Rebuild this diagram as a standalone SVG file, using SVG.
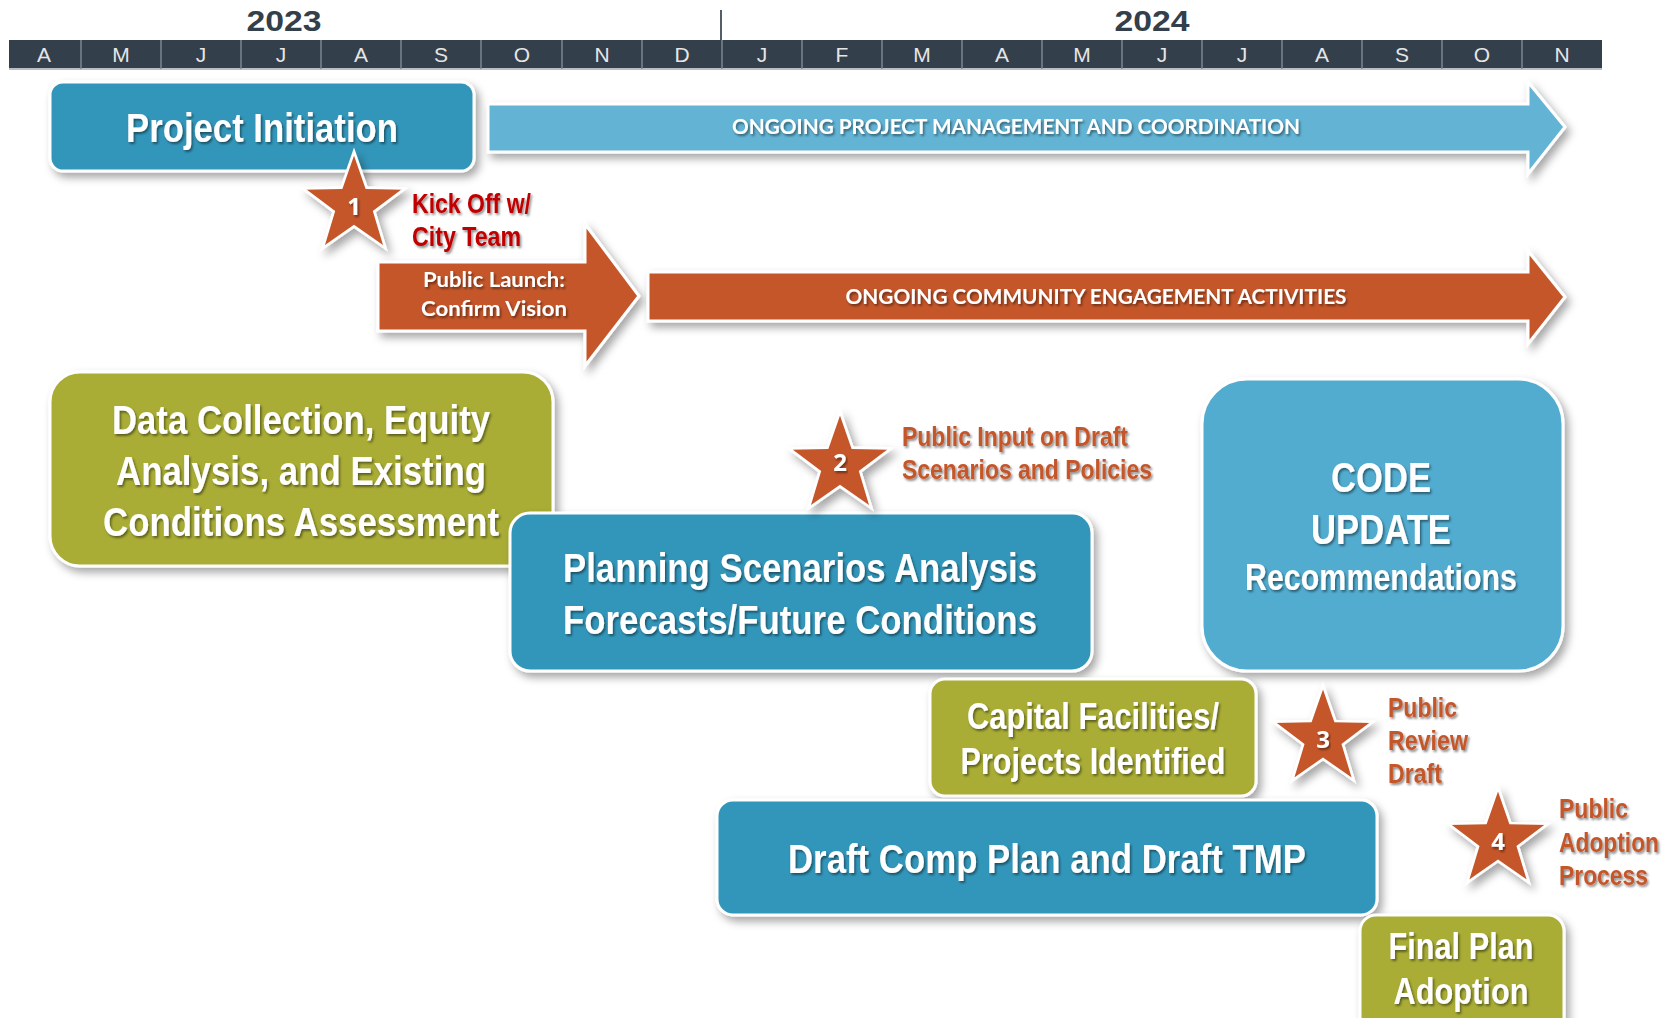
<svg xmlns="http://www.w3.org/2000/svg" width="1675" height="1018" viewBox="0 0 1675 1018">
<defs>
<filter id="sh" x="-10%" y="-10%" width="130%" height="140%">
<feDropShadow dx="4" dy="5" stdDeviation="4" flood-color="#000" flood-opacity="0.35"/>
</filter>
<filter id="tsh" x="-3%" y="-20%" width="106%" height="150%">
<feDropShadow dx="1.5" dy="2" stdDeviation="1" flood-color="#000" flood-opacity="0.45"/>
</filter>
<path id="star" d="M0,-50 L11.76,-16.18 L47.55,-15.45 L19.02,6.18 L29.39,40.45 L0,20 L-29.39,40.45 L-19.02,6.18 L-47.55,-15.45 L-11.76,-16.18 Z"/>
<style>
.box{stroke:#fff;stroke-width:3;filter:url(#sh)}
.teal{fill:#3396ba}
.lblue{fill:#51acd0}
.olive{fill:#a9ad35}
.orange{fill:#c4572a}
.arrowb{fill:#62b3d4}
.star{fill:#c4572a;stroke:#fff;stroke-width:2.5;filter:url(#sh)}
.nar{font-family:"Liberation Sans",Arial,sans-serif;font-weight:bold;fill:#fff;text-anchor:middle;filter:url(#tsh)}
.cal{font-family:Lato,"Open Sans",sans-serif;font-weight:bold;fill:#fff;text-anchor:middle;filter:url(#tsh)}
.num{font-family:"Open Sans",Lato,sans-serif;font-weight:bold;fill:#fff;text-anchor:middle;font-size:24px;filter:url(#tsh)}
.red{font-family:"Liberation Sans",Arial,sans-serif;font-weight:bold;fill:#c00000;font-size:27px;filter:url(#tsh)}
.otx{font-family:"Liberation Sans",Arial,sans-serif;font-weight:bold;fill:#c4572a;font-size:27px;filter:url(#tsh)}
.mon{font-family:"Liberation Sans",Arial,sans-serif;font-size:21px;fill:#e6e6e6;text-anchor:middle}
.yr{font-family:"Liberation Sans",Arial,sans-serif;font-weight:bold;font-size:30px;fill:#333f4b;text-anchor:middle}
.div{stroke:#7d8791;stroke-width:1.5}
</style>
</defs>
<rect width="1675" height="1018" fill="#fff"/>

<g id="timeline">
<text class="yr" x="284" y="31" textLength="75" lengthAdjust="spacingAndGlyphs">2023</text>
<text class="yr" x="1152" y="31" textLength="75" lengthAdjust="spacingAndGlyphs">2024</text>
<line x1="721" y1="10" x2="721" y2="40" stroke="#555e66" stroke-width="2"/>
<rect x="9" y="40" width="1593" height="29" fill="#333f4b"/>
<rect x="9" y="68" width="1593" height="2" fill="#b8bec4"/>
<g class="div">
<line x1="81" y1="40" x2="81" y2="69"/><line x1="161" y1="40" x2="161" y2="69"/><line x1="241" y1="40" x2="241" y2="69"/><line x1="321" y1="40" x2="321" y2="69"/><line x1="401" y1="40" x2="401" y2="69"/><line x1="481" y1="40" x2="481" y2="69"/><line x1="562" y1="40" x2="562" y2="69"/><line x1="642" y1="40" x2="642" y2="69"/><line x1="722" y1="40" x2="722" y2="69"/><line x1="802" y1="40" x2="802" y2="69"/><line x1="882" y1="40" x2="882" y2="69"/><line x1="962" y1="40" x2="962" y2="69"/><line x1="1042" y1="40" x2="1042" y2="69"/><line x1="1122" y1="40" x2="1122" y2="69"/><line x1="1202" y1="40" x2="1202" y2="69"/><line x1="1282" y1="40" x2="1282" y2="69"/><line x1="1362" y1="40" x2="1362" y2="69"/><line x1="1442" y1="40" x2="1442" y2="69"/><line x1="1522" y1="40" x2="1522" y2="69"/>
</g>
<text class="mon" x="44" y="62">A</text><text class="mon" x="121" y="62">M</text><text class="mon" x="201" y="62">J</text><text class="mon" x="281" y="62">J</text><text class="mon" x="361" y="62">A</text><text class="mon" x="441" y="62">S</text><text class="mon" x="522" y="62">O</text><text class="mon" x="602" y="62">N</text><text class="mon" x="682" y="62">D</text><text class="mon" x="762" y="62">J</text><text class="mon" x="842" y="62">F</text><text class="mon" x="922" y="62">M</text><text class="mon" x="1002" y="62">A</text><text class="mon" x="1082" y="62">M</text><text class="mon" x="1162" y="62">J</text><text class="mon" x="1242" y="62">J</text><text class="mon" x="1322" y="62">A</text><text class="mon" x="1402" y="62">S</text><text class="mon" x="1482" y="62">O</text><text class="mon" x="1562" y="62">N</text>
</g>

<g id="connectors">
<g id="arrow-pm">
<path class="box arrowb" d="M488,104 H1528 V82 L1565,127 L1528,174 V152 H488 Z"/>
<text class="cal" x="1016" y="134" font-size="20" textLength="568" lengthAdjust="spacingAndGlyphs">ONGOING PROJECT MANAGEMENT AND COORDINATION</text>
</g>
<g id="arrow-launch">
<path class="box orange" d="M378,262 H585 V224 L639,296 L585,366 V331 H378 Z"/>
<text class="cal" x="494" y="287" font-size="20" textLength="142" lengthAdjust="spacingAndGlyphs">Public Launch:</text>
<text class="cal" x="494" y="316" font-size="20" textLength="146" lengthAdjust="spacingAndGlyphs">Confirm Vision</text>
</g>
<g id="arrow-ce">
<path class="box orange" d="M648,272 H1528 V251 L1565,297 L1528,344 V321 H648 Z"/>
<text class="cal" x="1096" y="304" font-size="20" textLength="501" lengthAdjust="spacingAndGlyphs">ONGOING COMMUNITY ENGAGEMENT ACTIVITIES</text>
</g>
</g>

<g id="project-initiation">
<rect class="box teal" x="50" y="82" width="424" height="89" rx="13"/>
<text class="nar" x="262" y="142" font-size="40" textLength="272" lengthAdjust="spacingAndGlyphs">Project Initiation</text>
</g>

<g id="star1">
<use href="#star" class="star" transform="translate(354,205) scale(1.07)"/>
<text class="num" x="354" y="215">1</text>
<text class="red" x="412" y="213" textLength="119" lengthAdjust="spacingAndGlyphs">Kick Off w/</text>
<text class="red" x="412" y="246" textLength="109" lengthAdjust="spacingAndGlyphs">City Team</text>
</g>

<g id="data-collection">
<rect class="box olive" x="50" y="372" width="503" height="194" rx="30"/>
<text class="nar" x="301" y="434" font-size="40" textLength="378" lengthAdjust="spacingAndGlyphs">Data Collection, Equity</text>
<text class="nar" x="301" y="485" font-size="40" textLength="370" lengthAdjust="spacingAndGlyphs">Analysis, and Existing</text>
<text class="nar" x="301" y="536" font-size="40" textLength="396" lengthAdjust="spacingAndGlyphs">Conditions Assessment</text>
</g>

<g id="planning-scenarios">
<rect class="box teal" x="510" y="513" width="582" height="158" rx="20"/>
<text class="nar" x="800" y="582" font-size="40" textLength="474" lengthAdjust="spacingAndGlyphs">Planning Scenarios Analysis</text>
<text class="nar" x="800" y="634" font-size="40" textLength="474" lengthAdjust="spacingAndGlyphs">Forecasts/Future Conditions</text>
</g>

<g id="star2">
<use href="#star" class="star" transform="translate(840,465) scale(1.07)"/>
<text class="num" x="840" y="471">2</text>
<text class="otx" x="902" y="446" textLength="226" lengthAdjust="spacingAndGlyphs">Public Input on Draft</text>
<text class="otx" x="902" y="479" textLength="250" lengthAdjust="spacingAndGlyphs">Scenarios and Policies</text>
</g>

<g id="code-update">
<rect class="box lblue" x="1202" y="379" width="361" height="292" rx="45"/>
<text class="nar" x="1381" y="492" font-size="42" textLength="100" lengthAdjust="spacingAndGlyphs">CODE</text>
<text class="nar" x="1381" y="544" font-size="42" textLength="140" lengthAdjust="spacingAndGlyphs">UPDATE</text>
<text class="nar" x="1381" y="590" font-size="36" textLength="272" lengthAdjust="spacingAndGlyphs">Recommendations</text>
</g>

<g id="capital-facilities">
<rect class="box olive" x="930" y="679" width="326" height="117" rx="15"/>
<text class="nar" x="1093" y="729" font-size="36" textLength="252" lengthAdjust="spacingAndGlyphs">Capital Facilities/</text>
<text class="nar" x="1093" y="774" font-size="36" textLength="265" lengthAdjust="spacingAndGlyphs">Projects Identified</text>
</g>

<g id="star3">
<use href="#star" class="star" transform="translate(1323,738) scale(1.05)"/>
<text class="num" x="1323" y="748">3</text>
<text class="otx" x="1388" y="717" textLength="69" lengthAdjust="spacingAndGlyphs">Public</text>
<text class="otx" x="1388" y="750" textLength="80" lengthAdjust="spacingAndGlyphs">Review</text>
<text class="otx" x="1388" y="783" textLength="54" lengthAdjust="spacingAndGlyphs">Draft</text>
</g>

<g id="draft-comp-plan">
<rect class="box teal" x="717" y="800" width="660" height="115" rx="16"/>
<text class="nar" x="1047" y="873" font-size="40" textLength="518" lengthAdjust="spacingAndGlyphs">Draft Comp Plan and Draft TMP</text>
</g>

<g id="star4">
<use href="#star" class="star" transform="translate(1498,840) scale(1.05)"/>
<text class="num" x="1498" y="850">4</text>
<text class="otx" x="1559" y="818" textLength="69" lengthAdjust="spacingAndGlyphs">Public</text>
<text class="otx" x="1559" y="852" textLength="100" lengthAdjust="spacingAndGlyphs">Adoption</text>
<text class="otx" x="1559" y="885" textLength="89" lengthAdjust="spacingAndGlyphs">Process</text>
</g>

<g id="final-plan">
<rect class="box olive" x="1360" y="915" width="204" height="130" rx="16"/>
<text class="nar" x="1461" y="959" font-size="36" textLength="145" lengthAdjust="spacingAndGlyphs">Final Plan</text>
<text class="nar" x="1461" y="1004" font-size="36" textLength="135" lengthAdjust="spacingAndGlyphs">Adoption</text>
</g>
</svg>
